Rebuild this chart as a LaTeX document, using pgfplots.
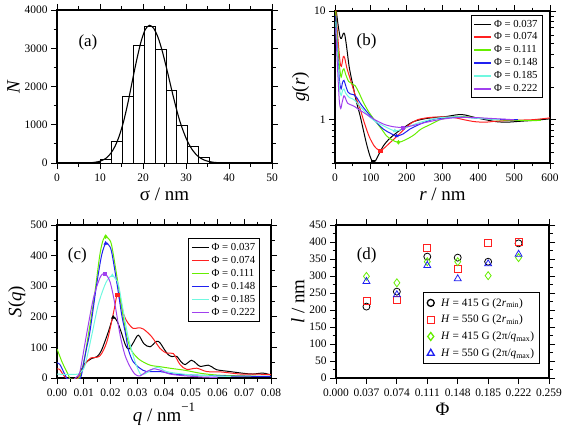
\documentclass[border=0pt]{standalone}
\usepackage{fontspec}
\setmainfont{Liberation Serif}
\usepackage{pgfplots}
\pgfplotsset{compat=1.18}
\definecolor{cR}{HTML}{FF2020}
\definecolor{cG}{HTML}{66EE00}
\definecolor{cB}{HTML}{2020F0}
\definecolor{cC}{HTML}{70F8E0}
\definecolor{cP}{HTML}{A040EE}
\pgfplotsset{
  panel/.style={
    scale only axis, anchor=south west,
    axis line style={line width=1.1pt},
    tick align=outside, tick pos=both,
    xticklabel pos=left, yticklabel pos=left,
    major tick length=6bp, minor tick length=3.5bp,
    every tick/.style={black, line width=0.9pt},
    tick label style={font=\fontsize{11.5}{13}\selectfont},
    xticklabel style={yshift=-1bp},
    label style={font=\fontsize{19}{21}\selectfont},
    /pgf/number format/assume math mode=true,
    /pgf/number format/1000 sep={},
    legend cell align=left,
    legend image post style={line width=1.3pt},
    legend style={font=\fontsize{10.8}{12}\selectfont, draw=black, line width=0.9pt, inner sep=2.5pt, row sep=0.3pt},
  },
  cv/.style={line width=1pt, smooth, tension=0.5},
}
\begin{document}
\begin{tikzpicture}[x=1bp,y=1bp]
\path[use as bounding box] (0,0) rectangle (565,430);
% ---------------- (a)
\begin{axis}[panel, at={(57bp,267bp)}, width=215bp, height=153bp,
  xmin=0, xmax=50, ymin=0, ymax=4000,
  xtick={0,10,...,50}, minor x tick num=1,
  ytick={0,1000,...,4000}, minor y tick num=1,
  xlabel={σ / nm}, ylabel={\textit{N}},
  ylabel style={yshift=-2bp}]
\addplot[ybar interval, fill=white, draw=black, line width=0.8pt] coordinates {
(10.1,100) (12.64,574) (15.18,1748) (17.72,3080) (20.26,3584) (22.8,2975)
(25.34,1905) (27.88,983) (30.42,426) (32.96,157) (35.5,0)};
\addplot[black, line width=1.1pt, smooth] coordinates {
(7,0) (8.5,14) (9.5,32) (10.5,68) (11.5,134) (12.5,252) (13.5,438) (14.5,716)
(15.5,1093) (16.5,1578) (17.5,2134) (18.5,2677) (19.5,3155) (20.5,3484) (21.5,3600)
(22.5,3518) (23.5,3282) (24.5,2917) (25.5,2470) (26.5,1992) (27.5,1530) (28.5,1119)
(29.5,794) (30.5,529) (31.5,340) (32.5,205) (33.5,119) (34.5,66) (35.5,35)
(36.5,17) (37.5,8) (39.5,2) (41,0)};
\node[font=\fontsize{17}{18}\selectfont] at (axis cs:7.2,3160) {(a)};
\end{axis}
% ---------------- (b)
\begin{axis}[panel, at={(335bp,267bp)}, width=215bp, height=152bp,
  ymode=log, xmin=0, xmax=600, ymin=0.4, ymax=10,
  xtick={0,100,...,600}, minor x tick num=1,
  ytick={1,10}, yticklabels={1,10},
  minor ytick={0.4,0.5,0.6,0.7,0.8,0.9,2,3,4,5,6,7,8,9},
  xlabel={\textit{r} / nm}, ylabel={\textit{g}(\textit{r})},
  ylabel style={yshift=-2bp},
  legend style={at={(0.965,0.974)}, anchor=north east}]
\addplot[cv, black] coordinates {(2,11) (5,9.2) (9,7.3) (14,5.8) (18,5.6) (23,6.2) (27,6.1) (32,4.8) (40,3.0) (51,2.0) (60,1.45) (70,1.09) (80,0.78) (88,0.6) (97,0.47) (105,0.41) (113,0.42) (125,0.5) (135,0.575) (150,0.66) (172,0.76) (195,0.86) (219,0.96) (250,1.02) (280,1.05) (310,1.07) (340,1.11) (360,1.11) (390,1.05) (420,1.0) (450,0.96) (480,0.95) (520,0.97) (560,0.99) (600,1.02)};
\addlegendentry{Φ = 0.037}
\addplot[cv, cR] coordinates {(2,10.5) (5,7.5) (9,5.2) (14,3.4) (18,3.1) (23,3.8) (27,3.7) (33,3.0) (42,2.4) (51,1.92) (60,1.55) (70,1.26) (80,0.98) (90,0.78) (98,0.67) (110,0.57) (120,0.53) (126,0.52) (135,0.54) (150,0.6) (172,0.7) (190,0.8) (209,0.91) (230,1.0) (265,1.05) (300,1.06) (330,1.05) (360,1.0) (390,0.96) (420,0.95) (450,0.97) (500,0.99) (550,1.0) (600,1.04)};
\addlegendentry{Φ = 0.074}
\addplot[cv, cG] coordinates {(2,10) (5,6.5) (9,4.2) (13,3.0) (17,2.46) (21,2.8) (25,2.94) (30,2.6) (38,2.25) (47,2.15) (56,2.06) (66,1.8) (79,1.45) (95,1.17) (116,0.94) (130,0.82) (144,0.71) (160,0.65) (177,0.62) (195,0.65) (219,0.72) (240,0.82) (265,0.9) (293,1.0) (320,1.05) (350,1.07) (400,1.04) (450,1.0) (500,0.99) (550,0.98) (575,0.99)};
\addlegendentry{Φ = 0.111}
\addplot[cv, cB] coordinates {(2,9) (5,5.5) (9,3.3) (13,2.2) (17,1.92) (21,2.2) (25,2.3) (30,2.05) (36,1.8) (42,1.73) (52,1.7) (60,1.61) (75,1.35) (98,1.09) (115,0.95) (135,0.82) (155,0.75) (172,0.71) (190,0.74) (209,0.82) (237,0.91) (274,1.01) (310,1.04) (350,1.06) (400,1.03) (450,1.01) (510,1.0)};
\addlegendentry{Φ = 0.148}
\addplot[cv, cC] coordinates {(2,8) (5,5) (9,2.9) (13,1.9) (17,1.67) (21,1.85) (25,1.92) (30,1.75) (40,1.6) (50,1.55) (60,1.45) (80,1.22) (98,1.05) (116,0.95) (135,0.88) (150,0.83) (167,0.79) (185,0.81) (200,0.85) (230,0.93) (265,1.0) (300,1.05) (350,1.06) (400,1.03) (460,1.0)};
\addlegendentry{Φ = 0.185}
\addplot[cv, cP] coordinates {(2,7) (5,4.2) (8,2.6) (12,1.5) (16,1.27) (20,1.45) (25,1.66) (29,1.58) (35,1.42) (42,1.38) (47,1.36) (55,1.32) (65,1.25) (79,1.17) (95,1.08) (116,0.98) (140,0.9) (165,0.86) (190,0.85) (215,0.88) (250,0.94) (290,1.0) (330,1.04) (380,1.05) (430,1.03) (500,1.0)};
\addlegendentry{Φ = 0.222}
\addplot[forget plot, only marks, black, mark=square*, mark size=1.6] coordinates {(105,0.41)};
\addplot[forget plot, only marks, cR, mark=square*, mark size=1.6] coordinates {(126,0.52)};
\addplot[forget plot, only marks, cG, mark=diamond*, mark size=2] coordinates {(177,0.62)};
\addplot[forget plot, only marks, cB, mark=triangle*, mark size=2] coordinates {(172,0.71)};
\addplot[forget plot, only marks, cC, mark=triangle*, mark size=2] coordinates {(167,0.79)};
\addplot[forget plot, only marks, cP, mark=square*, mark size=1.6] coordinates {(190,0.85)};
\node[font=\fontsize{17}{18}\selectfont] at (axis cs:88,5.2) {(b)};
\end{axis}
% ---------------- (c)
\begin{axis}[panel, at={(57bp,52bp)}, width=214bp, height=153bp,
  xmin=0, xmax=0.08, ymin=0, ymax=500,
  xtick={0,0.01,...,0.08}, minor x tick num=1, scaled x ticks=false,
  xticklabel style={/pgf/number format/.cd, fixed, fixed zerofill, precision=2},
  ytick={0,100,...,500}, minor y tick num=1,
  xlabel={\textit{q} / nm\raisebox{1.1ex}{\fontsize{13}{13}\selectfont −1}}, ylabel={\textit{S}(\textit{q})},
  ylabel style={yshift=-2bp},
  legend style={at={(0.949,0.913)}, anchor=north east}]
\addplot[cv, black] coordinates {(0.0075,0) (0.009,25) (0.0105,48) (0.013,64) (0.015,70) (0.0167,92) (0.0192,151) (0.021,198) (0.0225,185) (0.024,150) (0.0255,110) (0.0268,94) (0.0285,115) (0.0304,140) (0.0325,112) (0.0348,102) (0.0372,120) (0.0385,115) (0.040,95) (0.0416,76) (0.043,70) (0.0447,71) (0.0465,52) (0.0479,44) (0.0503,58) (0.052,48) (0.0535,38) (0.0566,42) (0.058,36) (0.0597,27) (0.0647,21) (0.07,15) (0.0733,13) (0.077,16) (0.080,10)};
\addlegendentry{Φ = 0.037}
\addplot[cv, cR] coordinates {(0,30) (0.001,28) (0.002,15) (0.003,3) (0.004,-3) (0.0075,-3) (0.009,20) (0.0105,45) (0.0125,65) (0.016,72) (0.0187,120) (0.0212,217) (0.0225,272) (0.0238,250) (0.025,206) (0.0265,180) (0.0285,162) (0.0304,164) (0.0323,160) (0.0354,135) (0.0385,97) (0.041,81) (0.0435,80) (0.046,44) (0.0485,28) (0.0522,32) (0.056,21) (0.061,20) (0.0685,13) (0.0735,13) (0.08,11)};
\addlegendentry{Φ = 0.074}
\addplot[cv, cG] coordinates {(0,95) (0.0011,70) (0.002,50) (0.003,32) (0.0045,5) (0.005,-3) (0.008,-3) (0.0092,21) (0.0105,75) (0.0117,140) (0.013,210) (0.0142,282) (0.016,402) (0.0172,450) (0.0182,462) (0.0193,455) (0.0204,435) (0.0223,337) (0.0242,228) (0.026,140) (0.0273,100) (0.0285,81) (0.031,59) (0.0348,42) (0.0385,37) (0.0422,32) (0.048,25) (0.054,15) (0.061,9) (0.073,6) (0.08,5)};
\addlegendentry{Φ = 0.111}
\addplot[cv, cB] coordinates {(0,50) (0.001,45) (0.0018,32) (0.0036,0) (0.004,-3) (0.0085,-3) (0.0098,42) (0.011,95) (0.0123,151) (0.0148,304) (0.0167,402) (0.0182,440) (0.0193,435) (0.0204,413) (0.0223,315) (0.0242,206) (0.0255,150) (0.0267,92) (0.0285,53) (0.031,32) (0.0335,21) (0.0385,21) (0.0435,13) (0.05,10) (0.06,7) (0.07,6) (0.08,5)};
\addlegendentry{Φ = 0.148}
\addplot[cv, cC] coordinates {(0,13) (0.002,12) (0.006,12) (0.008,13) (0.009,20) (0.0105,42) (0.013,140) (0.0154,239) (0.0179,304) (0.0195,328) (0.0207,334) (0.0218,325) (0.023,304) (0.0248,217) (0.0267,130) (0.0292,53) (0.031,15) (0.0317,12) (0.033,14) (0.036,30) (0.038,35) (0.041,21) (0.048,12) (0.055,8) (0.065,5)};
\addlegendentry{Φ = 0.185}
\addplot[cv, cP] coordinates {(0.0065,-3) (0.0075,5) (0.0086,21) (0.011,140) (0.0136,260) (0.016,326) (0.0177,342) (0.0198,315) (0.0217,239) (0.0236,140) (0.0254,75) (0.0273,37) (0.0292,12) (0.031,7) (0.0335,21) (0.036,30) (0.0375,28) (0.0385,26) (0.0422,13) (0.048,7) (0.055,3) (0.06,2)};
\addlegendentry{Φ = 0.222}
\addplot[forget plot, only marks, black, mark=triangle*, mark size=2] coordinates {(0.021,198)};
\addplot[forget plot, only marks, cR, mark=square*, mark size=1.6] coordinates {(0.0225,272)};
\addplot[forget plot, only marks, cG, mark=diamond*, mark size=2] coordinates {(0.0182,462)};
\addplot[forget plot, only marks, cB, mark=triangle*, mark size=2] coordinates {(0.0182,440)};
\addplot[forget plot, only marks, cC, mark=triangle*, mark size=2] coordinates {(0.0207,334)};
\addplot[forget plot, only marks, cP, mark=square*, mark size=1.6] coordinates {(0.0177,342)};
\node[font=\fontsize{17}{18}\selectfont] at (axis cs:0.0076,399) {(c)};
\end{axis}
% ---------------- (d)
\begin{axis}[panel, at={(336bp,52bp)}, width=213bp, height=153bp,
  xmin=0, xmax=0.259, ymin=0, ymax=450,
  xtick={0,0.037,0.074,0.111,0.148,0.185,0.222,0.259},
  xticklabels={0.000,0.037,0.074,0.111,0.148,0.185,0.222,0.259},
  ytick={0,50,...,450}, minor y tick num=1,
  xlabel={Φ}, ylabel={\textit{l} / nm},
  ylabel style={yshift=-2bp},
  legend style={at={(0.958,0.56)}, anchor=north east, row sep=3.5pt, inner sep=3.5pt, font=\fontsize{11.3}{12}\selectfont}]
\addplot[only marks, black, mark=o, mark size=3.5, line width=0.8pt] coordinates {(0.037,210) (0.074,254) (0.111,357) (0.148,354) (0.185,342) (0.222,396)};
\addlegendentry{\hspace{5bp}\textit{H} = 415 G (2\textit{r}\textsubscript{min})}
\addplot[only marks, cR, mark=square, mark size=3.5, line width=0.8pt] coordinates {(0.037,227) (0.074,229) (0.111,382) (0.148,321) (0.185,397) (0.222,401)};
\addlegendentry{\hspace{5bp}\textit{H} = 550 G (2\textit{r}\textsubscript{min})}
\addplot[only marks, cG, mark=diamond, mark size=4, line width=0.8pt] coordinates {(0.037,299) (0.074,280) (0.111,342) (0.148,342) (0.185,301) (0.222,354)};
\addlegendentry{\hspace{5bp}\textit{H} = 415 G (2π/\textit{q}\textsubscript{max})}
\addplot[only marks, cB, mark=triangle, mark size=4, line width=0.8pt] coordinates {(0.037,284) (0.074,245) (0.111,331) (0.148,292) (0.185,336) (0.222,364)};
\addlegendentry{\hspace{5bp}\textit{H} = 550 G (2π/\textit{q}\textsubscript{max})}
\node[font=\fontsize{17}{18}\selectfont] at (axis cs:0.0373,360) {(d)};
\end{axis}
\end{tikzpicture}
\end{document}
